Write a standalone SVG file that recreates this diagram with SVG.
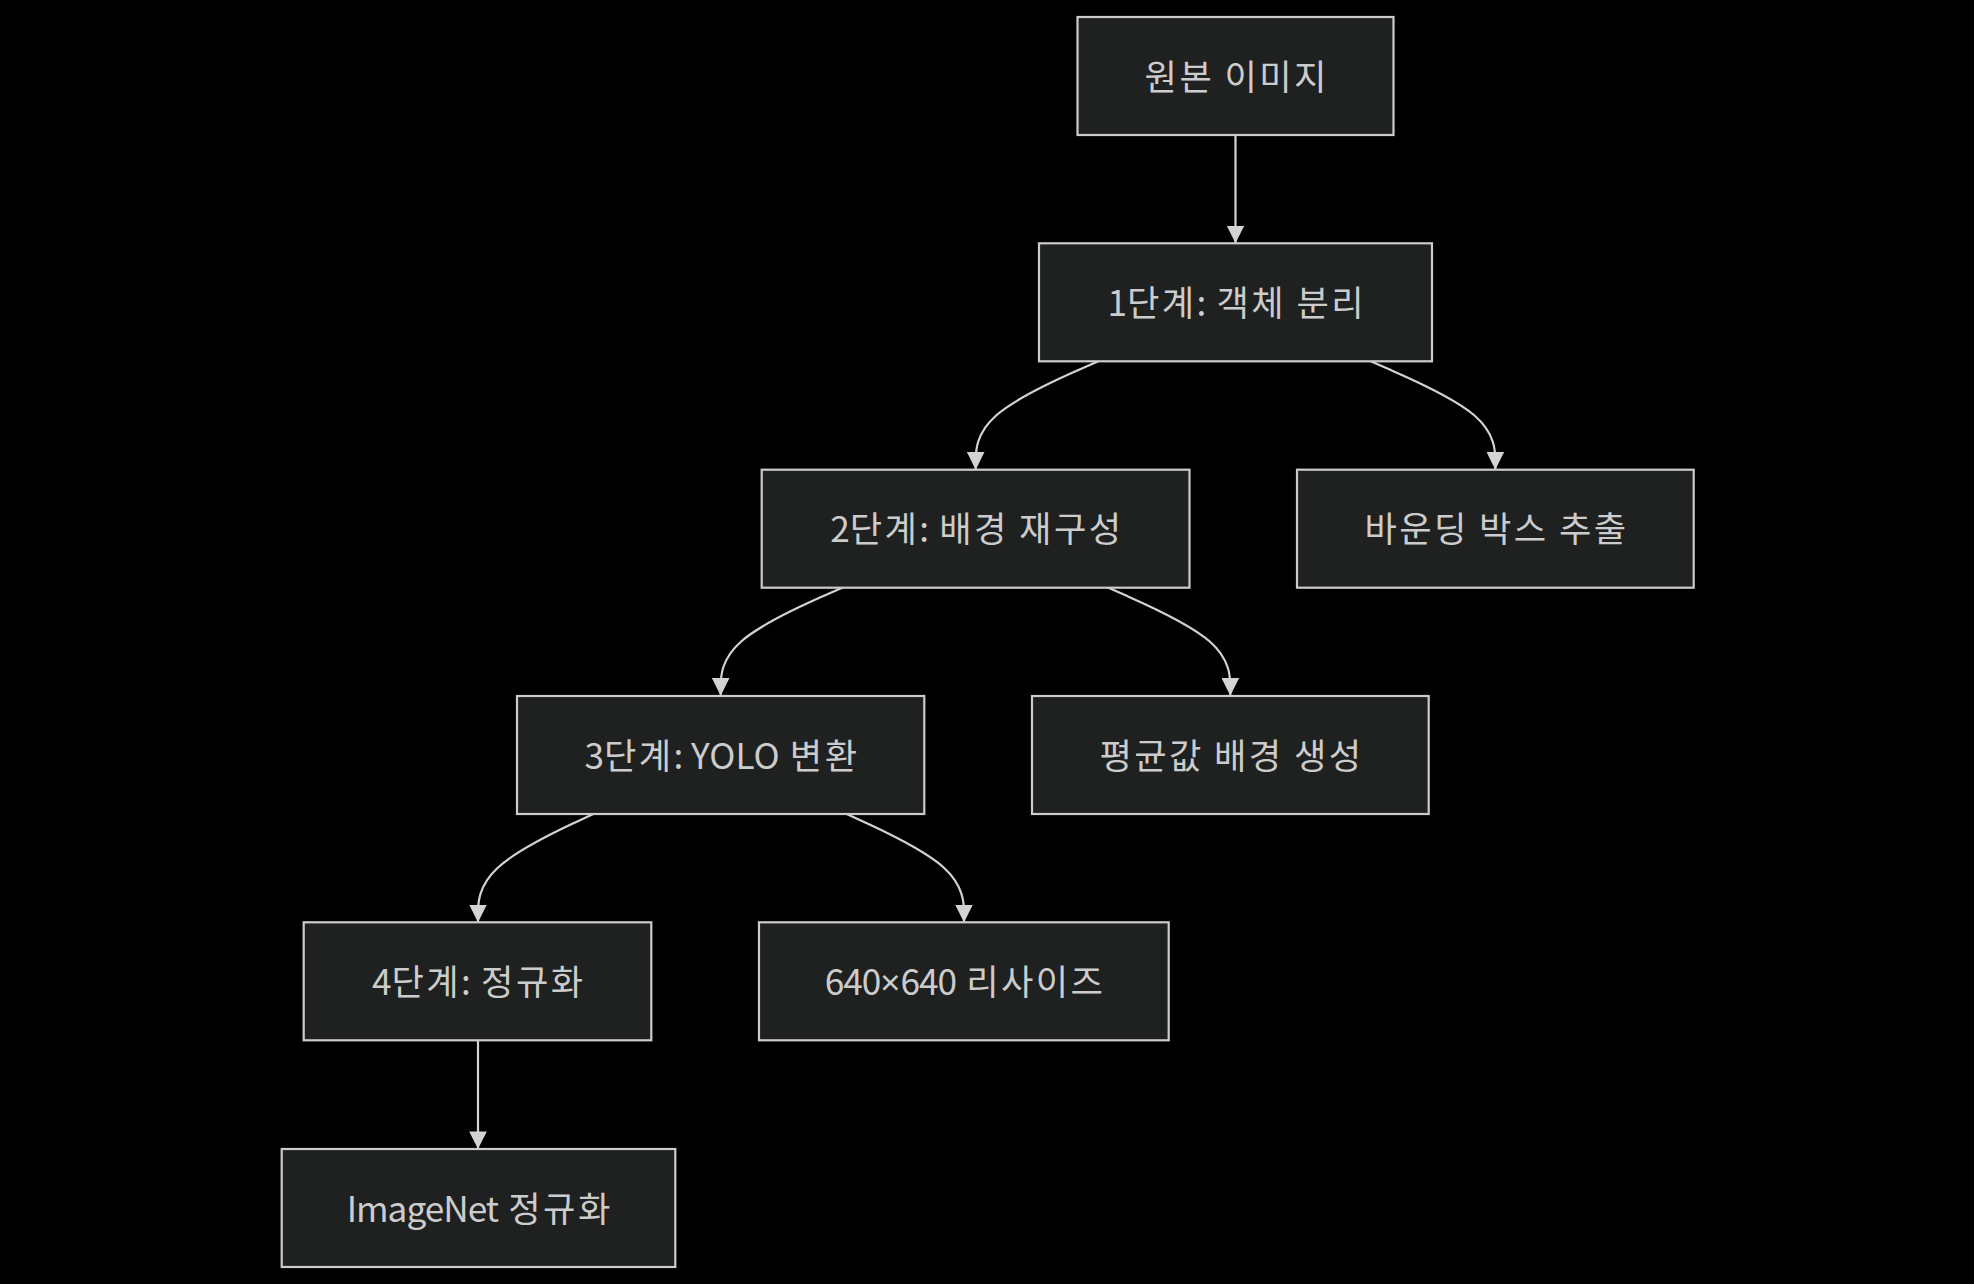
<svg xmlns="http://www.w3.org/2000/svg" width="1974" height="1284" viewBox="0 0 1974 1284">
<style>
.node rect{fill:#1f2020;stroke:#cccccc;stroke-width:2.2}
.node text{fill:#cccccc;font-family:"Noto Sans CJK KR","Noto Sans",sans-serif;font-size:35.2px;text-anchor:middle;letter-spacing:2.4px}
.node tspan.l{letter-spacing:0}
.node tspan.n{letter-spacing:-1px}
.node tspan.x{letter-spacing:0;font-family:"Noto Sans",sans-serif}
.edge{fill:none;stroke:#d3d3d3;stroke-width:2.2}
</style>
<defs>
<marker id="arrow" viewBox="0 0 10 10" refX="10" refY="5" markerUnits="userSpaceOnUse" markerWidth="17.6" markerHeight="17.6" orient="auto">
<path d="M0,0 L10,5 L0,10 z" fill="#d3d3d3"/>
</marker>
</defs>
<rect width="1974" height="1284" fill="#000000"/>
<g id="edges">
<path class="edge" marker-end="url(#arrow)" d="M1235.5,135 L1235.5,243.3"/>
<path class="edge" marker-end="url(#arrow)" d="M1098.3,361.3 L1077.87,370.33 C1057.43,379.37 1016.57,397.43 996.13,415.5 C975.7,433.57 975.7,451.63 975.7,460.67 L975.7,469.7"/>
<path class="edge" marker-end="url(#arrow)" d="M1370.7,361.3 L1391.47,370.33 C1412.23,379.37 1453.77,397.43 1474.53,415.5 C1495.3,433.57 1495.3,451.63 1495.3,460.67 L1495.3,469.7"/>
<path class="edge" marker-end="url(#arrow)" d="M843.3,587.3 L822.87,596.33 C802.43,605.37 761.57,623.43 741.13,641.5 C720.7,659.57 720.7,677.63 720.7,686.67 L720.7,695.7"/>
<path class="edge" marker-end="url(#arrow)" d="M1107.3,587.3 L1127.8,596.33 C1148.3,605.37 1189.3,623.43 1209.8,641.5 C1230.3,659.57 1230.3,677.63 1230.3,686.67 L1230.3,695.7"/>
<path class="edge" marker-end="url(#arrow)" d="M593.3,814 L574.08,823.03 C554.87,832.07 516.43,850.13 497.22,868.2 C478,886.27 478,904.33 478,913.37 L478,922.4"/>
<path class="edge" marker-end="url(#arrow)" d="M846.7,814 L866.25,823.03 C885.8,832.07 924.9,850.13 944.45,868.2 C964,886.27 964,904.33 964,913.37 L964,922.4"/>
<path class="edge" marker-end="url(#arrow)" d="M478,1040.3 L478,1149"/>
</g>
<g id="n_original" class="node"><rect x="1077.5" y="17" width="316" height="118"/><text x="1236.7" y="89.5">원본 이미지</text></g>
<g id="n_step1" class="node"><rect x="1039" y="243.3" width="393" height="118"/><text x="1236.7" y="315.8"><tspan class="l">1</tspan>단계<tspan class="l">:</tspan> 객체 분리</text></g>
<g id="n_step2" class="node"><rect x="761.7" y="469.7" width="427.8" height="118"/><text x="976.8" y="542.2"><tspan class="l">2</tspan>단계<tspan class="l">:</tspan> 배경 재구성</text></g>
<g id="n_bbox" class="node"><rect x="1297" y="469.7" width="396.7" height="118"/><text x="1496.5" y="542.2">바운딩 박스 추출</text></g>
<g id="n_step3" class="node"><rect x="517" y="696" width="407.3" height="118"/><text x="721.9" y="768.5"><tspan class="l">3</tspan>단계<tspan class="l">: YOLO</tspan> 변환</text></g>
<g id="n_meanbg" class="node"><rect x="1032" y="696" width="396.7" height="118"/><text x="1231.5" y="768.5">평균값 배경 생성</text></g>
<g id="n_step4" class="node"><rect x="303.7" y="922.3" width="347.6" height="118"/><text x="478.7" y="994.8"><tspan class="l">4</tspan>단계<tspan class="l">:</tspan> 정규화</text></g>
<g id="n_resize" class="node"><rect x="759" y="922.3" width="409.7" height="118"/><text x="965" y="994.8"><tspan class="n">640</tspan><tspan class="x">×</tspan><tspan class="n">640</tspan> 리사이즈</text></g>
<g id="n_imagenet" class="node"><rect x="281.7" y="1149" width="393.6" height="118"/><text x="479.7" y="1221.5"><tspan class="n">ImageNet</tspan> 정규화</text></g>
</svg>
